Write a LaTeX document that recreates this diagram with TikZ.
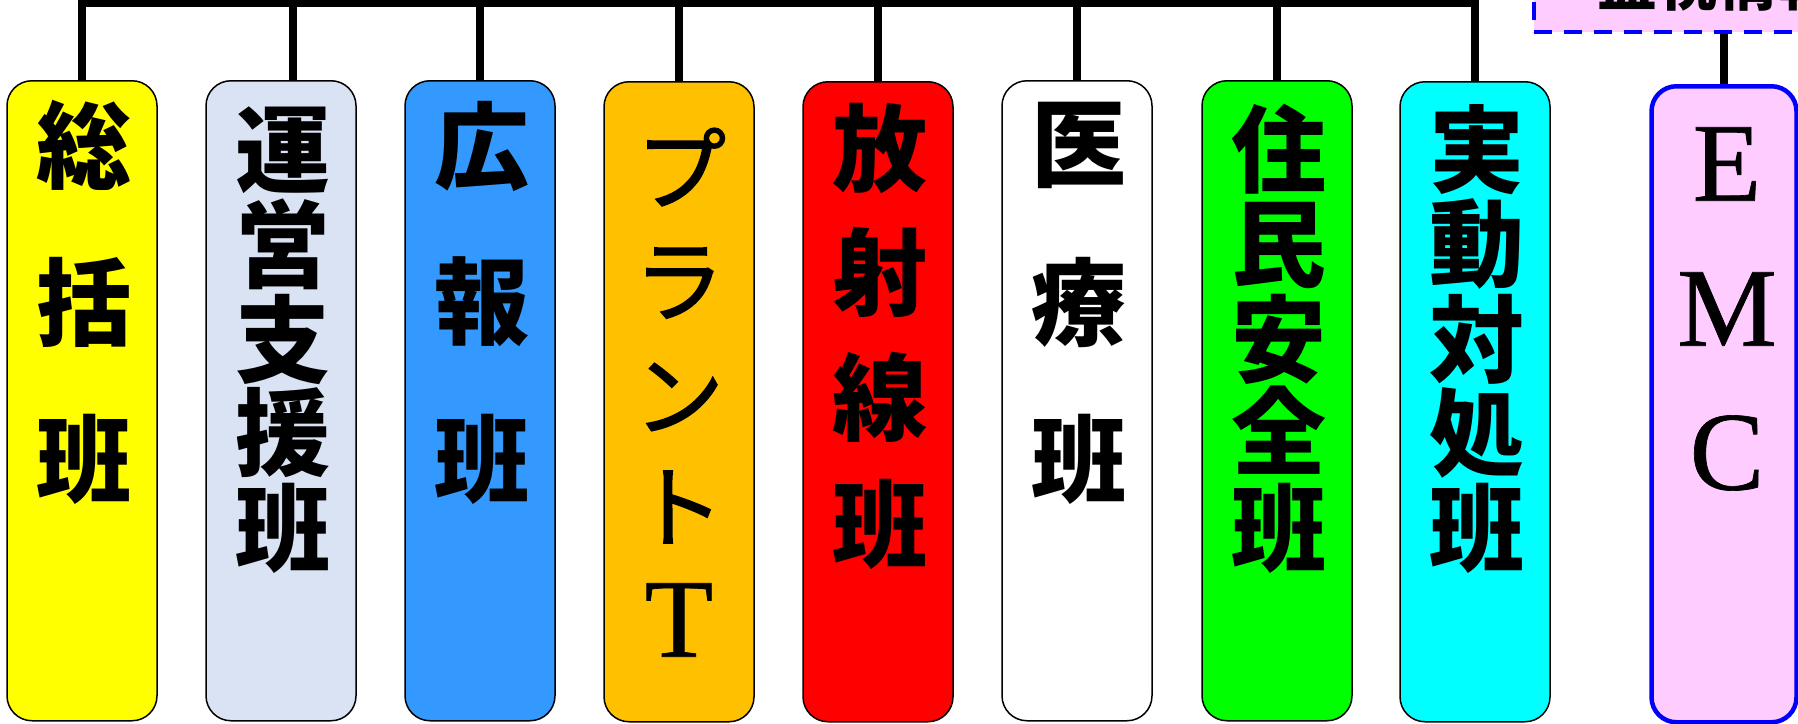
\documentclass[tikz,border=0pt]{standalone}
\usepackage{fontspec}
\newfontfamily\cjk{Noto Sans CJK JP}
\newfontfamily\cjkmid{Noto Sans CJK JP}[FakeBold=1.5]
\newfontfamily\lat{Liberation Serif}[FakeBold=0.6]
\definecolor{cYellow}{HTML}{FFFF00}
\definecolor{cGrey}{HTML}{DAE3F3}
\definecolor{cBlue}{HTML}{3399FF}
\definecolor{cOrange}{HTML}{FFC000}
\definecolor{cRed}{HTML}{FF0000}
\definecolor{cGreen}{HTML}{00FF00}
\definecolor{cCyan}{HTML}{00FFFF}
\definecolor{cPink}{HTML}{FFCCFF}
\definecolor{cEdge}{HTML}{0000FF}
\begin{document}
\begin{tikzpicture}[x=1pt,y=-1pt,
  panel/.style={draw=black, line width=1.5pt, rounded corners=25pt, minimum width=150pt, minimum height=640pt, inner sep=0pt, anchor=north},
  emcbox/.style={draw=cEdge, fill=cPink, line width=4.5pt, rounded corners=25pt, minimum width=145pt, minimum height=636pt, inner sep=0pt, anchor=north},
  monbox/.style={draw=cEdge, fill=cPink, line width=4pt, dash pattern=on 18pt off 12pt, minimum width=320pt, minimum height=100pt, inner sep=0pt, anchor=south west},
  kan/.style={font=\cjk\bfseries\fontsize{95}{95}\selectfont, inner sep=0pt},
  kana/.style={font=\cjkmid\fontsize{90}{90}\selectfont, inner sep=0pt},
  latin/.style={font=\lat\fontsize{112}{112}\selectfont, inner sep=0pt},
  montext/.style={font=\cjk\bfseries\fontsize{60}{60}\selectfont, inner sep=0pt, anchor=south west},
  conn/.style={line width=7.5pt, line join=miter, draw=black}
]
\useasboundingbox (0,0) rectangle (1798,723);
\clip (0,0) rectangle (1798,723);

% panels
\node[panel, fill=cYellow] (b1) at (82,80) {};
\node[panel, fill=cGrey]   (b2) at (281,80) {};
\node[panel, fill=cBlue]   (b3) at (480,80) {};
\node[panel, fill=cOrange] (b4) at (679,81) {};
\node[panel, fill=cRed]    (b5) at (878,81) {};
\node[panel, fill=white]   (b6) at (1077,80) {};
\node[panel, fill=cGreen]  (b7) at (1277,80) {};
\node[panel, fill=cCyan]   (b8) at (1475,81) {};
\node[emcbox] (emc) at (1724,84) {};

% monitoring box (cut off at the top right)
\node[monbox] (mon) at (1532,34) {};
\node[montext] (montxt) at (1597,12) {監視情報};

% connectors
\coordinate (busL) at (82,3.5);
\coordinate (busR) at (1475,3.5);
\draw[conn] (b1.north) -- (busL) -- (busR) -- (b8.north);
\draw[conn] ([xshift=12pt]b2.north) -- ([xshift=12pt]b2.north |- busL);
\draw[conn] (b3.north) -- (b3.north |- busL);
\draw[conn] (b4.north) -- (b4.north |- busL);
\draw[conn] (b5.north) -- (b5.north |- busL);
\draw[conn] (b6.north) -- (b6.north |- busL);
\draw[conn] (b7.north) -- (b7.north |- busL);
\draw[conn] (mon.south -| emc.north) -- (emc.north);

% texts
\node[kan] (t1a) at (84,145) {総};
\node[kan] (t1b) at (84,302) {括};
\node[kan] (t1c) at (84,459) {班};

\node[kan] (t2a) at (283,150) {運};
\node[kan] (t2b) at (283,244) {営};
\node[kan] (t2c) at (283,339) {支};
\node[kan] (t2d) at (283,433) {援};
\node[kan] (t2e) at (283,528) {班};

\node[kan] (t3a) at (482,146) {広};
\node[kan] (t3b) at (482,302) {報};
\node[kan] (t3c) at (482,459) {班};

\node[kana] (t4a) at (681,167) {プ};
\node[kana] (t4b) at (679,283) {ラ};
\node[kana] (t4c) at (679,397) {ン};
\node[kana] (t4d) at (679,507) {ト};
\node[latin] (t4e) at (679,620) {T};

\node[kan] (t5a) at (880,148) {放};
\node[kan] (t5b) at (880,272) {射};
\node[kan] (t5c) at (880,397) {線};
\node[kan] (t5d) at (880,524) {班};

\node[kan] (t6a) at (1079,145) {医};
\node[kan] (t6b) at (1079,302) {療};
\node[kan] (t6c) at (1079,459) {班};

\node[kan] (t7a) at (1279,149) {住};
\node[kan] (t7b) at (1279,245) {民};
\node[kan] (t7c) at (1279,339) {安};
\node[kan] (t7d) at (1279,430) {全};
\node[kan] (t7e) at (1279,528) {班};

\node[kan] (t8a) at (1477,150) {実};
\node[kan] (t8b) at (1477,244) {動};
\node[kan] (t8c) at (1477,339) {対};
\node[kan] (t8d) at (1477,433) {処};
\node[kan] (t8e) at (1477,528) {班};

\node[latin] (t9a) at (1727,164) {E};
\node[latin] (t9b) at (1727,309) {M};
\node[latin] (t9c) at (1727,453) {C};
\end{tikzpicture}
\end{document}
